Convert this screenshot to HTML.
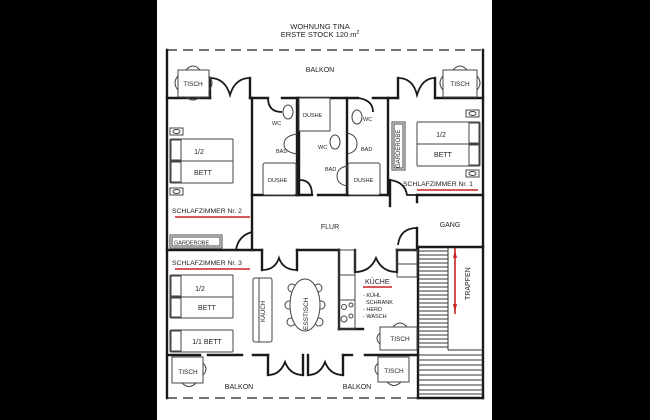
<!DOCTYPE html>
<html><head><meta charset="utf-8"><style>
html,body{margin:0;padding:0;background:#000;}
svg{display:block;}
text{font-family:"Liberation Sans",sans-serif;fill:#222;}
</style></head><body>
<svg width="650" height="420" viewBox="0 0 650 420" xmlns="http://www.w3.org/2000/svg">
<rect x="0" y="0" width="650" height="420" fill="#000"/>
<rect x="157" y="0" width="335" height="420" fill="#fff"/>
<text x="320" y="29" font-size="7.5" text-anchor="middle">WOHNUNG TINA</text>
<text x="320" y="37" font-size="7.5" text-anchor="middle">ERSTE STOCK 120 m<tspan font-size="5" dy="-3">2</tspan></text>
<g stroke="#222" fill="none" stroke-width="1.3">
<line x1="167" y1="50" x2="483" y2="50" stroke-dasharray="10,6"/>
<line x1="167" y1="398" x2="418" y2="398" stroke-dasharray="10,6"/>
</g>
<g stroke="#1a1a1a" fill="none" stroke-width="2.4" stroke-linecap="square">
<line x1="167" y1="50" x2="167" y2="398"/>
<line x1="483" y1="50" x2="483" y2="398"/>
<line x1="167" y1="98" x2="210" y2="98"/>
<line x1="210" y1="98" x2="210" y2="78"/>
<line x1="250" y1="98" x2="250" y2="78"/>
<line x1="250" y1="98" x2="268" y2="98"/>
<line x1="282" y1="98" x2="358" y2="98"/>
<line x1="373" y1="98" x2="398" y2="98"/>
<line x1="398" y1="98" x2="398" y2="78"/>
<line x1="435" y1="98" x2="435" y2="78"/>
<line x1="435" y1="98" x2="483" y2="98"/>
<line x1="252" y1="98" x2="252" y2="250"/>
<line x1="297" y1="98" x2="297" y2="195"/>
<line x1="299" y1="98" x2="299" y2="195"/>
<line x1="347" y1="98" x2="347" y2="195"/>
<line x1="388" y1="98" x2="388" y2="195"/>
<line x1="252" y1="195" x2="312" y2="195"/>
<line x1="318" y1="195" x2="388" y2="195"/>
<line x1="390" y1="180" x2="390" y2="206"/>
<line x1="417" y1="195" x2="483" y2="195"/>
<line x1="417" y1="195" x2="417" y2="202"/>
<line x1="417" y1="228" x2="417" y2="250"/>
<line x1="167" y1="250" x2="262" y2="250"/>
<line x1="262" y1="250" x2="262" y2="270"/>
<line x1="297" y1="250" x2="297" y2="270"/>
<line x1="297" y1="250" x2="339" y2="250"/>
<line x1="339" y1="250" x2="339" y2="329"/>
<line x1="339" y1="329" x2="363" y2="329"/>
<line x1="355" y1="250" x2="355" y2="272"/>
<line x1="397" y1="250" x2="397" y2="272"/>
<line x1="397" y1="250" x2="417" y2="250"/>
<line x1="418" y1="247" x2="418" y2="398"/>
<line x1="418" y1="247" x2="483" y2="247"/>
<line x1="418" y1="398" x2="483" y2="398"/>
<line x1="167" y1="355" x2="200" y2="355"/>
<line x1="208" y1="355" x2="242" y2="355"/>
<line x1="253" y1="355" x2="268" y2="355"/>
<line x1="268" y1="355" x2="268" y2="375"/>
<line x1="303" y1="355" x2="303" y2="375"/>
<line x1="308" y1="355" x2="308" y2="375"/>
<line x1="343" y1="355" x2="343" y2="375"/>
<line x1="343" y1="355" x2="352" y2="355"/>
<line x1="365" y1="355" x2="418" y2="355"/>
</g>
<g stroke="#1a1a1a" fill="none" stroke-width="1.8">
<path d="M210 78 Q225 78 230 95 Q235 78 250 78"/>
<path d="M398 78 Q413 78 417 95 Q422 78 435 78"/>
<path d="M268 98 Q268 112 282 112"/>
<path d="M358 98 Q373 100 373 112"/>
<path d="M312 195 Q312 180 300 180"/>
<path d="M252 232 Q238 236 236 250"/>
<path d="M390 180 Q405 182 407 195 L417 195"/>
<path d="M417 228 Q400 228 398 245"/>
<path d="M262 270 Q275 270 279 258 Q283 270 297 270"/>
<path d="M355 272 Q370 272 376 258 Q382 272 397 272"/>
<path d="M268 375 Q280 375 285 362 Q290 375 303 375"/>
<path d="M308 375 Q320 375 325 362 Q330 375 343 375"/>
</g>
<g stroke="#333" stroke-width="1">
<line x1="448" y1="247" x2="448" y2="350"/>
<line x1="448" y1="350" x2="483" y2="350"/>
<path d="M418 251h30M418 255h30M418 259h30M418 263h30M418 267h30M418 271h30M418 275h30M418 279h30M418 283h30M418 287h30M418 291h30M418 295h30M418 299h30M418 303h30M418 307h30M418 311h30M418 315h30M418 319h30M418 323h30M418 327h30M418 331h30M418 335h30M418 339h30M418 343h30M418 347h30"/>
<path d="M418 355h65M418 360h65M418 365h65M418 370h65M418 375h65M418 380h65M418 385h65M418 390h65M418 394h65"/>
</g>
<line x1="455" y1="248" x2="455" y2="314" stroke="#c22" stroke-width="1.6"/>
<path d="M453 258 L455 250 L457 258Z" fill="#c22"/>
<path d="M453 304 L455 312 L457 304Z" fill="#c22"/>
<text transform="translate(470,300) rotate(-90)" font-size="7">TRAPFEN</text>
<g stroke="#444" fill="#fff" stroke-width="1">
<path d="M178 76 Q172 83 178 90" fill="none"/><path d="M209 76 Q215 83 209 90" fill="none"/>
<path d="M186 70 Q193 62 200 70" fill="none"/><path d="M186 97 Q193 103 200 97" fill="none"/>
<rect x="178" y="70" width="31" height="27"/>
<path d="M443 76 Q437 83 443 90" fill="none"/><path d="M477 76 Q483 83 477 90" fill="none"/>
<path d="M453 70 Q460 62 467 70" fill="none"/>
<rect x="443" y="70" width="34" height="27"/>
<rect x="170" y="128" width="13" height="7"/><ellipse cx="176.5" cy="131.5" rx="3.5" ry="2"/>
<rect x="170" y="139" width="63" height="44" rx="1"/>
<line x1="170" y1="161" x2="233" y2="161"/>
<rect x="171" y="140" width="10" height="20"/><rect x="171" y="162" width="10" height="20"/>
<rect x="170" y="188" width="13" height="7"/><ellipse cx="176.5" cy="191.5" rx="3.5" ry="2"/>
<rect x="466" y="110" width="13" height="7"/><ellipse cx="472.5" cy="113.5" rx="3.5" ry="2"/>
<rect x="417" y="122" width="63" height="44" rx="1"/>
<line x1="417" y1="144" x2="480" y2="144"/>
<rect x="469" y="123" width="10" height="20"/><rect x="469" y="145" width="10" height="20"/>
<rect x="466" y="170" width="13" height="7"/><ellipse cx="472.5" cy="173.5" rx="3.5" ry="2"/>
<rect x="392" y="122" width="13" height="48"/><rect x="394" y="124" width="9" height="44"/>
<rect x="170" y="235" width="52" height="13"/><rect x="172" y="237" width="48" height="9"/>
<ellipse cx="288" cy="112" rx="5" ry="7"/>
<path d="M297 134 Q284 136 284 144 Q284 152 297 154" fill="none"/>
<rect x="263" y="163" width="33" height="32" rx="2"/>
<rect x="299" y="98" width="31" height="33"/>
<ellipse cx="335" cy="142" rx="5" ry="7"/>
<path d="M347 133 Q357 135 357 144 Q357 152 347 154" fill="none"/>
<path d="M347 166 Q337 168 337 176 Q337 184 347 186" fill="none"/>
<ellipse cx="357" cy="117" rx="5" ry="7"/>
<rect x="348" y="163" width="32" height="32" rx="2"/>
<rect x="170" y="275" width="63" height="43" rx="1"/>
<line x1="170" y1="297" x2="233" y2="297"/>
<rect x="171" y="276" width="10" height="20"/><rect x="171" y="298" width="10" height="19"/>
<rect x="170" y="330" width="63" height="22" rx="1"/><rect x="171" y="331" width="10" height="20"/>
<rect x="253" y="278" width="19" height="64" rx="2"/><line x1="259" y1="278" x2="259" y2="342"/>
<circle cx="292" cy="288" r="4"/><circle cx="318" cy="288" r="4"/>
<circle cx="289" cy="305" r="4"/><circle cx="321" cy="305" r="4"/>
<circle cx="291" cy="322" r="4"/><circle cx="319" cy="322" r="4"/>
<ellipse cx="305" cy="305" rx="15" ry="26"/>
<rect x="339" y="250" width="16" height="25" fill="none"/>
<rect x="339" y="275" width="16" height="25" fill="none"/>
<rect x="339" y="300" width="16" height="29" fill="none"/>
<circle cx="344" cy="307" r="2.5"/><circle cx="351" cy="305" r="2"/><circle cx="344" cy="319" r="3"/><circle cx="351" cy="316" r="2"/>
<rect x="397" y="250" width="20" height="14" fill="none"/>
<rect x="397" y="264" width="20" height="13" fill="none"/>
<path d="M380 333 Q374 338 380 344" fill="none"/><path d="M393 327 Q400 319 407 327" fill="none"/>
<rect x="380" y="327" width="37" height="23"/>
<path d="M378 363 Q372 369 378 375" fill="none"/><path d="M387 382 Q394 389 401 382" fill="none"/>
<rect x="378" y="357" width="31" height="25"/>
<path d="M203 363 Q209 369 203 375" fill="none"/><path d="M182 383 Q189 390 196 383" fill="none"/>
<rect x="172" y="357" width="31" height="26"/>
</g>
<g font-size="7">
<text x="320" y="72" text-anchor="middle">BALKON</text>
<text x="193" y="86" text-anchor="middle" font-size="6.5">TISCH</text>
<text x="460" y="86" text-anchor="middle" font-size="6.5">TISCH</text>
<text x="272" y="125" font-size="5.5">WC</text>
<text x="303" y="117" font-size="5.5">DUSHE</text>
<text x="318" y="149" font-size="5.5">WC</text>
<text x="363" y="121" font-size="5.5">WC</text>
<text x="276" y="153" font-size="5.5">BAD</text>
<text x="325" y="171" font-size="5.5">BAD</text>
<text x="361" y="151" font-size="5.5">BAD</text>
<text x="268" y="182" font-size="5.5">DUSHE</text>
<text x="354" y="182" font-size="5.5">DUSHE</text>
<text x="199" y="154" text-anchor="middle">1/2</text>
<text x="203" y="175" text-anchor="middle">BETT</text>
<text x="441" y="137" text-anchor="middle">1/2</text>
<text x="443" y="157" text-anchor="middle">BETT</text>
<text transform="translate(400,168) rotate(-90)" font-size="6">GARDEROBE</text>
<text x="403" y="186" font-size="6.8">SCHLAFZIMMER Nr. 1</text>
<text x="172" y="213" font-size="6.8">SCHLAFZIMMER Nr. 2</text>
<text x="174" y="244.5" font-size="5.5">GARDEROBE</text>
<text x="172" y="265" font-size="6.8">SCHLAFZIMMER Nr. 3</text>
<text x="330" y="229" text-anchor="middle">FLUR</text>
<text x="450" y="227" text-anchor="middle">GANG</text>
<text x="200" y="291" text-anchor="middle">1/2</text>
<text x="207" y="310" text-anchor="middle">BETT</text>
<text x="207" y="344" text-anchor="middle">1/1 BETT</text>
<text transform="translate(265,322) rotate(-90)" font-size="6">KAUCH</text>
<text transform="translate(308,330) rotate(-90)" font-size="6.5">ESSTISCH</text>
<text x="365" y="284">KÜCHE</text>
<g font-size="5.5"><text x="363" y="297">- KÜHL</text><text x="366" y="304">SCHRANK</text><text x="363" y="311">- HERD</text><text x="363" y="318">- WASCH</text></g>
<text x="400" y="341" text-anchor="middle" font-size="6.5">TISCH</text>
<text x="394" y="373" text-anchor="middle" font-size="6.5">TISCH</text>
<text x="188" y="374" text-anchor="middle" font-size="6.5">TISCH</text>
<text x="239" y="389" text-anchor="middle">BALKON</text>
<text x="357" y="389" text-anchor="middle">BALKON</text>
</g>
<g stroke="#c22" stroke-width="1.5">
<line x1="417" y1="190" x2="478" y2="190"/>
<line x1="175" y1="217" x2="250" y2="217"/>
<line x1="175" y1="269" x2="250" y2="269"/>
<line x1="363" y1="287" x2="392" y2="287"/>
</g>
</svg>
</body></html>
